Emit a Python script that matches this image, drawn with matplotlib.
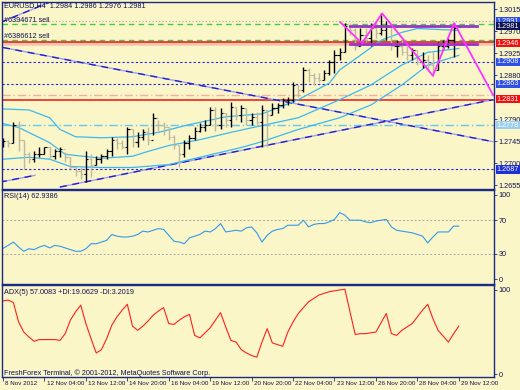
import numpy as np
import matplotlib.pyplot as plt
from matplotlib.transforms import blended_transform_factory as blend

plt.rcParams['font.family'] = ['Liberation Sans', 'DejaVu Sans']

# EURUSD H4 bars, 8 Nov 2012 20:00 .. 29 Nov 2012 12:00
opens = [1.2742, 1.2746, 1.2742, 1.2779, 1.2748, 1.2718, 1.2708, 1.2718, 1.2718, 1.2732,
         1.2714, 1.2724, 1.2728, 1.2712, 1.2693, 1.2683, 1.2677, 1.2708, 1.2697, 1.2708,
         1.2714, 1.2724, 1.2748, 1.2742, 1.2734, 1.2769, 1.2744, 1.2754, 1.2763, 1.2748,
         1.2793, 1.2779, 1.2775, 1.2754, 1.2738, 1.2718, 1.2742, 1.2752, 1.2765, 1.2775,
         1.2779, 1.2809, 1.2779, 1.2803, 1.2789, 1.2815, 1.2799, 1.2813, 1.2789, 1.2795,
         1.2785, 1.2809, 1.2799, 1.2813, 1.2819, 1.2830, 1.2830, 1.2860, 1.2850, 1.2891,
         1.2880, 1.2874, 1.2870, 1.2885, 1.2907, 1.2921, 1.2927, 1.2982, 1.2972, 1.2941,
         1.2962, 1.2956, 1.2976, 1.2966, 1.2972, 1.2982, 1.2941, 1.2941, 1.2927, 1.2921,
         1.2931, 1.2907, 1.2911, 1.2901, 1.2891, 1.2941, 1.2941, 1.2952, 1.2984]
highs = [1.2752, 1.2748, 1.2785, 1.2787, 1.2748, 1.2722, 1.2724, 1.2732, 1.2734, 1.2732,
         1.2728, 1.2734, 1.2722, 1.2712, 1.2693, 1.2693, 1.2724, 1.2718, 1.2714, 1.2718,
         1.2728, 1.2754, 1.2752, 1.2748, 1.2775, 1.2769, 1.2763, 1.2769, 1.2773, 1.2803,
         1.2789, 1.2785, 1.2773, 1.2758, 1.2738, 1.2748, 1.2758, 1.2773, 1.2783, 1.2789,
         1.2815, 1.2815, 1.2813, 1.2803, 1.2826, 1.2815, 1.2819, 1.2813, 1.2803, 1.2805,
         1.2819, 1.2809, 1.2824, 1.2824, 1.2834, 1.2836, 1.2866, 1.2860, 1.2897, 1.2895,
         1.2885, 1.2885, 1.2891, 1.2911, 1.2931, 1.2935, 1.2988, 1.2988, 1.2976, 1.2976,
         1.2976, 1.2988, 1.2992, 1.3007, 1.2992, 1.2982, 1.2952, 1.2952, 1.2941, 1.2935,
         1.2931, 1.2927, 1.2921, 1.2927, 1.2948, 1.2952, 1.2956, 1.2988, 1.2986]
lows = [1.2732, 1.2732, 1.2742, 1.2724, 1.2687, 1.2701, 1.2703, 1.2712, 1.2718, 1.2708,
        1.2708, 1.2712, 1.2703, 1.2687, 1.2673, 1.2667, 1.2661, 1.2671, 1.2697, 1.2701,
        1.2708, 1.2714, 1.2728, 1.2728, 1.2718, 1.2734, 1.2732, 1.2748, 1.2738, 1.2758,
        1.2765, 1.2758, 1.2748, 1.2728, 1.2691, 1.2712, 1.2728, 1.2748, 1.2763, 1.2765,
        1.2779, 1.2765, 1.2769, 1.2775, 1.2773, 1.2789, 1.2785, 1.2779, 1.2779, 1.2779,
        1.2734, 1.2734, 1.2799, 1.2803, 1.2813, 1.2819, 1.2826, 1.2836, 1.2846, 1.2866,
        1.2860, 1.2866, 1.2870, 1.2880, 1.2885, 1.2911, 1.2927, 1.2962, 1.2931, 1.2941,
        1.2948, 1.2941, 1.2956, 1.2962, 1.2952, 1.2931, 1.2917, 1.2921, 1.2911, 1.2911,
        1.2901, 1.2895, 1.2891, 1.2878, 1.2891, 1.2931, 1.2935, 1.2917, 1.2976]
closes = [1.2746, 1.2742, 1.2779, 1.2748, 1.2718, 1.2708, 1.2718, 1.2718, 1.2732, 1.2714,
          1.2724, 1.2728, 1.2712, 1.2693, 1.2683, 1.2677, 1.2708, 1.2697, 1.2708, 1.2714,
          1.2724, 1.2748, 1.2742, 1.2734, 1.2769, 1.2744, 1.2754, 1.2763, 1.2748, 1.2793,
          1.2779, 1.2775, 1.2754, 1.2738, 1.2718, 1.2742, 1.2752, 1.2765, 1.2775, 1.2779,
          1.2809, 1.2779, 1.2803, 1.2789, 1.2815, 1.2799, 1.2813, 1.2789, 1.2795, 1.2785,
          1.2809, 1.2799, 1.2813, 1.2819, 1.2830, 1.2830, 1.2860, 1.2850, 1.2891, 1.2880,
          1.2874, 1.2870, 1.2885, 1.2907, 1.2921, 1.2927, 1.2982, 1.2972, 1.2941, 1.2962,
          1.2956, 1.2976, 1.2966, 1.2972, 1.2982, 1.2941, 1.2941, 1.2927, 1.2921, 1.2931,
          1.2907, 1.2911, 1.2901, 1.2891, 1.2941, 1.2941, 1.2952, 1.2976, 1.2981]

# band lines (bar index, price)
band_up_idx = [0, 5, 9, 11, 14, 19, 25, 30, 36, 43, 50, 53, 57, 63, 65, 69, 73, 77, 80, 88]
band_up = [1.2811, 1.2809, 1.2793, 1.2769, 1.2754, 1.2752, 1.2754, 1.2763, 1.2779, 1.2795,
           1.2801, 1.2813, 1.2830, 1.2864, 1.2891, 1.2921, 1.2952, 1.2968, 1.2976, 1.2972]
band_mid_idx = [0, 3, 9, 12, 19, 25, 28, 32, 38, 44, 50, 57, 65, 71, 77, 82, 88]
band_mid = [1.2781, 1.2773, 1.2742, 1.2718, 1.2710, 1.2714, 1.2724, 1.2736, 1.2748, 1.2763,
            1.2777, 1.2793, 1.2830, 1.2860, 1.2901, 1.2927, 1.2935]
band_low_idx = [0, 5, 9, 13, 19, 25, 32, 38, 46, 50, 57, 65, 71, 77, 82, 88]
band_low = [1.2708, 1.2712, 1.2708, 1.2693, 1.2691, 1.2691, 1.2697, 1.2712, 1.2732, 1.2744,
            1.2769, 1.2793, 1.2819, 1.2860, 1.2901, 1.2921]

# trend lines: (start idx, start price, end idx, end price)
trend_lines = [(0.0, 1.2937, 94.6, 1.2744),
               (11.0, 1.2651, 94.6, 1.2830),
               (-0.6, 1.2988, 9.7, 1.3033),
               (-0.6, 1.2661, 6.2, 1.2675)]

zz_idx = [65.1, 69.3, 73.2, 83.0, 87.1, 94.6]
zz_price = [1.2989, 1.2946, 1.3007, 1.2879, 1.2987, 1.2840]
purple_levels = [1.2982, 1.2944]
purple_span = (67.0, 91.5)

box_prices = [1.2991, 1.2981, 1.2946, 1.2908, 1.2863, 1.2831, 1.2778, 1.2687]
box_colors = ['#2F4FE8', '#0E1450', '#EE1111', '#2F4FE8', '#2F4FE8', '#EE1111', '#9CCFEF', '#2030D8']
price_ticks = [1.2655, 1.2700, 1.2745, 1.2790, 1.2880, 1.2925, 1.2970, 1.3015]

rsi = [36.5, 40, 44, 38, 33, 36, 35, 38, 40, 37, 40, 39, 37, 35, 33, 33, 36, 42, 42, 44,
       46, 53, 51, 50, 50, 51, 53, 57, 56, 58, 60, 59, 52, 45, 44, 42, 49, 51, 53, 57,
       56, 60, 66, 56, 57, 58, 57, 61, 62, 55, 44, 52, 57, 59, 60, 64, 64, 64, 70, 62,
       65, 66, 66, 68, 71, 79, 76, 70, 70, 70, 68, 67, 69, 70, 71, 62, 58, 57, 56, 55,
       53, 51, 43, 50, 56, 56, 56, 63, 62.94]
adx = [87, 88, 85, 62, 50, 44, 39, 41, 41, 41, 41, 40, 48, 64, 74, 82, 60, 42, 25, 29,
       42, 58, 68, 76, 83, 57, 52, 57, 63, 70, 75, 79, 60, 59, 64, 68, 71, 46, 43, 49,
       55, 64, 73, 56, 40, 38, 29, 25, 22, 20, 38, 54, 37, 35, 33, 50, 62, 72, 79, 86,
       90, 94, 96, 98, 99, 100, 101, 74, 47, 48, 48, 49, 50, 61, 72, 48, 46, 52, 56, 60,
       68, 76, 83, 66, 52, 45, 38, 48, 57]

date_labels = ['8 Nov 2012', '12 Nov 04:00', '13 Nov 12:00', '14 Nov 20:00', '16 Nov 04:00',
               '19 Nov 12:00', '20 Nov 20:00', '22 Nov 04:00', '23 Nov 12:00', '26 Nov 20:00',
               '28 Nov 04:00', '29 Nov 12:00']

bg = '#FAF6C8'
navy = '#1B2A86'
txt = '#101050'
fs = 5.2

fig = plt.figure(figsize=(5.2, 3.9), dpi=100, facecolor=bg)
ax = fig.add_axes([2/520, 1-189/390, 492/520, 187/390])
ax_rsi = fig.add_axes([2/520, 1-284/390, 492/520, 94/390])
ax_adx = fig.add_axes([2/520, 1-377/390, 492/520, 92/390])

for a in (ax, ax_rsi, ax_adx):
    a.set_facecolor(bg)
    a.set_xlim(-0.2, 94.8)
    for s in a.spines.values():
        s.set_color(navy)
        s.set_linewidth(1.0)
    a.yaxis.tick_right()
    a.tick_params(axis='x', bottom=False, labelbottom=False)
    a.tick_params(axis='y', length=2, width=0.6, color=navy, labelsize=fs,
                  labelcolor=txt, pad=1.5)

# ---- main price panel ----
ax.set_ylim(1.26469, 1.30303)
ax.set_yticks(price_ticks)
ax.set_yticklabels(['%.4f' % p for p in price_ticks])

# horizontal levels
ax.axhline(1.2991, color='#A8A8A8', lw=0.8, ls=(0, (1, 2)))
ax.axhline(1.29855, color='#44CC44', lw=1.0, ls=(0, (4, 3)))
ax.axhline(1.2952, color='#44CC44', lw=1.0, ls=(0, (4, 3)))
ax.axhline(1.2944, color='#F7C4B0', lw=2.6)
ax.axhline(1.2948, color='#EE1111', lw=1.1)
ax.axhline(1.2908, color='#2222DD', lw=0.8, ls=(0, (2, 2)))
ax.axhline(1.2863, color='#2222DD', lw=0.8, ls=(0, (2, 2)))
ax.axhline(1.2839, color='#F0AFA0', lw=1.0, ls=(0, (6, 2, 1, 2)))
ax.axhline(1.2830, color='#EE1111', lw=1.1)
ax.axhline(1.2778, color='#66C8EE', lw=1.0, ls=(0, (6, 2, 1, 2)))
ax.axhline(1.2687, color='#2222DD', lw=0.8, ls=(0, (2, 2)))

for x0, y0, x1, y1 in trend_lines:
    ax.plot([x0, x1], [y0, y1], color='#A0A0F0', lw=1.0)
    ax.plot([x0, x1], [y0, y1], color='#2020D0', lw=1.0, ls=(0, (5, 4)))

band_color = '#3CB8F0'
ax.plot(band_up_idx, band_up, color=band_color, lw=0.9)
ax.plot(band_mid_idx, band_mid, color=band_color, lw=0.9)
ax.plot(band_low_idx, band_low, color=band_color, lw=0.9)

idx = np.arange(len(closes))
up = np.array(closes) >= np.array(opens)
bar_colors = np.where(up, '#000000', '#BDB8A0')
ax.vlines(idx, lows, highs, colors=bar_colors, lw=1.0)
ax.hlines(opens, idx - 0.45, idx, colors=bar_colors, lw=0.8)
ax.hlines(closes, idx, idx + 0.45, colors=bar_colors, lw=0.8)

for lv in purple_levels:
    ax.plot(purple_span, [lv, lv], color='#9933CC', lw=2.0)
ax.plot(zz_idx, zz_price, color='#FF33FF', lw=1.3)

tr = blend(ax.transAxes, ax.transData)
for p, c in zip(box_prices, box_colors):
    ax.text(1.0055, p, '%.4f' % p, transform=tr, fontsize=fs, color='white',
            ha='left', va='center', clip_on=False,
            bbox=dict(boxstyle='square,pad=0.08', fc=c, ec='none'))

# ---- RSI ----
ax_rsi.set_ylim(-5.95, 105.95)
ax_rsi.set_yticks([0, 30, 70, 100])
ax_rsi.set_yticklabels(['0', '30', '70', '100'])
for lv in (30, 70):
    ax_rsi.axhline(lv, color='#A8A8A8', lw=0.7, ls=(0, (2, 2)))
ax_rsi.plot(idx, rsi, color='#3399EE', lw=0.8)

# ---- ADX ----
ax_adx.set_ylim(-3.57, 105.95)
ax_adx.set_yticks([0, 100])
ax_adx.set_yticklabels(['0', '100'])
ax_adx.plot(idx, adx, color='#FF2020', lw=0.8)

ax_adx.set_xticks(np.arange(0, 89, 8))
ax_adx.tick_params(axis='x', bottom=True, length=3, width=0.6, color=navy,
                   direction='out', labelbottom=False)
trx = blend(ax_adx.transData, ax_adx.transAxes)
for k, lab in enumerate(date_labels):
    ax_adx.text(k * 8 + 0.4, -0.04, lab, transform=trx, fontsize=4.5, color=txt,
                ha='left', va='top', clip_on=False)

# ---- texts ----
fig.text(4/520, 1-6/390, 'EURUSD,H4  1.2984 1.2986 1.2976 1.2981', fontsize=fs, color=txt, va='center')
fig.text(4/520, 1-20/390, '#6394671 sell', fontsize=fs, color=txt, va='center')
fig.text(4/520, 1-36/390, '#6386612 sell', fontsize=fs, color=txt, va='center')
fig.text(4/520, 1-197/390, 'RSI(14) 62.9386', fontsize=fs, color=txt, va='center')
fig.text(4/520, 1-292/390, 'ADX(5) 57.0083 +DI:19.0629 -DI:3.2019', fontsize=fs, color=txt, va='center')
fig.text(4/520, 1-373/390, 'FreshForex Terminal, \u00a9 2001-2012, MetaQuotes Software Corp.',
         fontsize=fs, color=txt, va='center')

fig.savefig('out.png', dpi=100, facecolor=bg)
